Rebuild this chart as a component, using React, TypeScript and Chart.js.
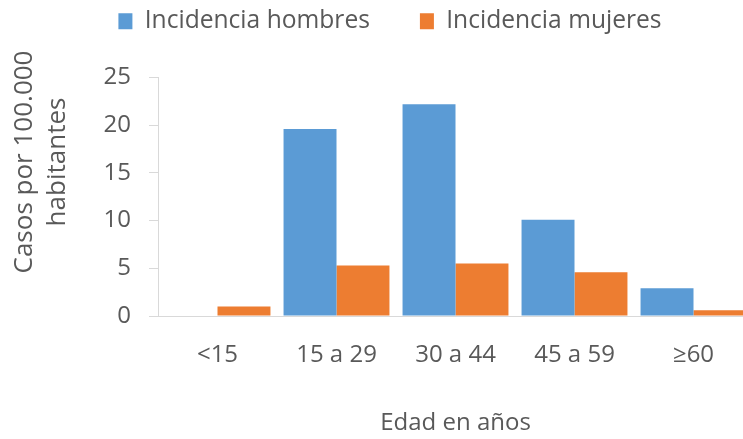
import React, { useEffect, useRef } from "react";
import { Chart, registerables } from "chart.js";

Chart.register(...registerables);

const categories = ["<15", "15 a 29", "30 a 44", "45 a 59", "≥60"];
const hombres = [0, 19.6, 22.2, 10.1, 2.9];
const mujeres = [1.0, 5.3, 5.5, 4.6, 0.6];
const yTicks = [0, 5, 10, 15, 20, 25];
const yTitle = ["Casos por 100.000", "habitantes"];
const xTitle = "Edad en años";

const FONT = "'Open Sans', 'Liberation Sans', sans-serif";
const TEXT = "#595959";
const AXIS = "#D9D9D9";

const yTitlePlugin = {
  id: "yTitleDraw",
  afterDraw(chart: any) {
    const ctx = chart.ctx as CanvasRenderingContext2D;
    ctx.save();
    ctx.fillStyle = TEXT;
    ctx.font = `26px ${FONT}`;
    ctx.textAlign = "center";
    ctx.textBaseline = "middle";
    const cy = 162;
    const xs = [25, 58];
    yTitle.forEach((line, i) => {
      ctx.save();
      ctx.translate(xs[i], cy);
      ctx.rotate(-Math.PI / 2);
      ctx.fillText(line, 0, 0);
      ctx.restore();
    });
    ctx.restore();
  },
};

export default function App() {
  const ref = useRef<HTMLCanvasElement | null>(null);
  useEffect(() => {
    if (!ref.current) return;
    const chart = new Chart(ref.current, {
      type: "bar",
      data: {
        labels: categories,
        datasets: [
          { label: "Incidencia hombres", data: hombres, backgroundColor: "#5B9BD5" },
          { label: "Incidencia mujeres", data: mujeres, backgroundColor: "#ED7D31" },
        ],
      },
      plugins: [yTitlePlugin],
      options: {
        responsive: false,
        animation: false,
        devicePixelRatio: 1,
        layout: { padding: { left: 27, right: 27, top: -41, bottom: 0 } },
        datasets: { bar: { categoryPercentage: 0.89, barPercentage: 1 } },
        plugins: {
          tooltip: { enabled: false },
          legend: {
            position: "top",
            labels: {
              font: { family: FONT, size: 24.6 },
              color: TEXT,
              boxWidth: 14,
              boxHeight: 16,
              padding: 50,
            },
          },
          subtitle: {
            display: true,
            text: "",
            weight: 500,
            font: { size: 10, lineHeight: 1 },
            padding: { top: 24, bottom: 0 },
          } as any,
        },
        scales: {
          x: {
            afterFit: (s: any) => {
              s.height = 123;
            },
            grid: { display: false },
            border: { display: true, color: AXIS, width: 1 },
            ticks: { font: { family: FONT, size: 24 }, color: TEXT, padding: 17 },
            title: {
              display: true,
              text: xTitle,
              font: { family: FONT, size: 24 },
              color: TEXT,
              padding: { top: 0, bottom: 1 },
            },
          },
          y: {
            min: 0,
            max: 25,
            afterFit: (s: any) => {
              s.width = 131;
            },
            afterBuildTicks: (axis: any) => {
              axis.ticks = yTicks.map((v) => ({ value: v }));
            },
            grid: { drawOnChartArea: false, color: AXIS, tickLength: 9 },
            border: { display: true, color: AXIS, width: 1 },
            ticks: { font: { family: FONT, size: 24 }, color: TEXT, padding: 18 },
          },
        },
      },
    });
    return () => chart.destroy();
  }, []);
  return (
    <div style={{ position: "fixed", left: 0, top: 0, width: 743, height: 439, overflow: "hidden", background: "#fff" }}>
      <canvas ref={ref} width={780} height={439} style={{ display: "block" }} />
    </div>
  );
}
